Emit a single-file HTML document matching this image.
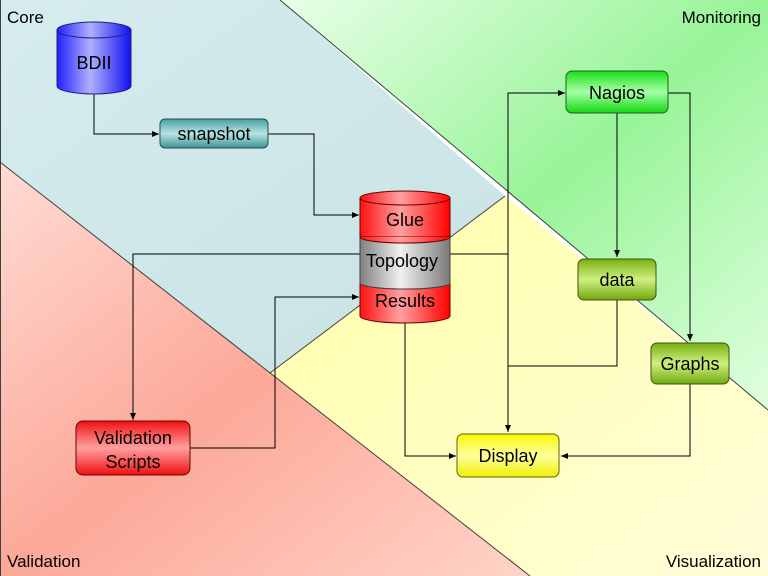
<!DOCTYPE html>
<html><head><meta charset="utf-8"><style>
html,body{margin:0;padding:0;background:#fff}
svg{display:block;font-family:"Liberation Sans",sans-serif}
</style></head><body>
<svg width="768" height="576" viewBox="0 0 768 576">
<defs>
<linearGradient id="gGreen" x1="0" y1="0" x2="1" y2="1" gradientUnits="objectBoundingBox">
<stop offset="0" stop-color="#e8ffe8"/><stop offset="0.5" stop-color="#98f498"/><stop offset="1" stop-color="#e0ffe0"/></linearGradient>
<linearGradient id="gRed" x1="0" y1="0" x2="1" y2="1">
<stop offset="0" stop-color="#ffdcd4"/><stop offset="0.5" stop-color="#fca898"/><stop offset="1" stop-color="#ffd4c8"/></linearGradient>
<linearGradient id="gYel" x1="0" y1="0" x2="1" y2="1">
<stop offset="0" stop-color="#ffffa8"/><stop offset="1" stop-color="#fffcd8"/></linearGradient>
<linearGradient id="gBlue" x1="0" y1="0" x2="1" y2="1">
<stop offset="0" stop-color="#d6ecee"/><stop offset="1" stop-color="#c8e2e4"/></linearGradient>
<linearGradient id="cylBlue" x1="0" x2="1"><stop offset="0" stop-color="#2020ff"/><stop offset="0.45" stop-color="#b0b0ff"/><stop offset="1" stop-color="#1010f0"/></linearGradient>
<linearGradient id="cylRed" x1="0" x2="1"><stop offset="0" stop-color="#ff1010"/><stop offset="0.45" stop-color="#ffa0a0"/><stop offset="1" stop-color="#ff0000"/></linearGradient>
<linearGradient id="cylGray" x1="0" x2="1"><stop offset="0" stop-color="#808080"/><stop offset="0.45" stop-color="#f0f0f0"/><stop offset="1" stop-color="#7a7a7a"/></linearGradient>
<linearGradient id="bTeal" x1="0" y1="0" x2="0" y2="1"><stop offset="0" stop-color="#4a9ea0"/><stop offset="0.5" stop-color="#b8e4e4"/><stop offset="1" stop-color="#3e9294"/></linearGradient>
<linearGradient id="bGreen" x1="0" y1="0" x2="0" y2="1"><stop offset="0" stop-color="#18e018"/><stop offset="0.5" stop-color="#a8ffa8"/><stop offset="1" stop-color="#10d810"/></linearGradient>
<linearGradient id="bOlive" x1="0" y1="0" x2="0" y2="1"><stop offset="0" stop-color="#78b010"/><stop offset="0.5" stop-color="#d0f080"/><stop offset="1" stop-color="#70a810"/></linearGradient>
<linearGradient id="bYel" x1="0" y1="0" x2="0" y2="1"><stop offset="0" stop-color="#f8f800"/><stop offset="0.5" stop-color="#ffffa0"/><stop offset="1" stop-color="#f0f000"/></linearGradient>
<linearGradient id="bRed" x1="0" y1="0" x2="0" y2="1"><stop offset="0" stop-color="#f01010"/><stop offset="0.5" stop-color="#ffa0a0"/><stop offset="1" stop-color="#f01010"/></linearGradient>
<marker id="ar" markerWidth="8" markerHeight="8" refX="7" refY="4" orient="auto" markerUnits="userSpaceOnUse"><path d="M0,1 L7,4 L0,7 z" fill="#000"/></marker>
</defs>

<g>
<polygon points="0,0 280,0 505,196 270,373 0,162" fill="url(#gBlue)"/>
<polygon points="280,0 768,0 768,410" fill="url(#gGreen)"/>
<polygon points="505,196 768,410 768,576 530,576 270,373" fill="url(#gYel)"/>
<polygon points="0,162 270,373 530,576 0,576" fill="url(#gRed)"/>
<g stroke="#404040" stroke-width="1" fill="none">
<line x1="280" y1="0" x2="768" y2="410"/>
<line x1="0" y1="162" x2="530" y2="576"/>
<line x1="270" y1="373" x2="505" y2="196"/>
<line x1="0.5" y1="0" x2="0.5" y2="576"/>
</g>
</g>

<g font-size="17" fill="#000">
<text x="7" y="23">Core</text>
<text x="761" y="23" text-anchor="end">Monitoring</text>
<text x="7" y="567">Validation</text>
<text x="761" y="567" text-anchor="end">Visualization</text>
</g>

<g stroke="#000" stroke-width="1" fill="none">
<polyline points="94,94 94,134 159,134" marker-end="url(#ar)"/>
<polyline points="268,134 314,134 314,215 359,215" marker-end="url(#ar)"/>
<polyline points="360,254 133,254 133,420" marker-end="url(#ar)"/>
<polyline points="190,448 275,448 275,297 359,297" marker-end="url(#ar)"/>
<polyline points="450,254 508,254"/>
<polyline points="508,366 508,432" marker-end="url(#ar)"/>
<polyline points="508,366 508,93 565,93" marker-end="url(#ar)"/>
<polyline points="405,322 405,456 456,456" marker-end="url(#ar)"/>
<polyline points="617,113 617,257" marker-end="url(#ar)"/>
<polyline points="668,93 690,93 690,341" marker-end="url(#ar)"/>
<polyline points="617,300 617,366 508,366"/>
<polyline points="690,384 690,456 561,456" marker-end="url(#ar)"/>
</g>

<g>
<path d="M57,30 L57,86 A37,8 0 0 0 131,86 L131,30" fill="url(#cylBlue)" stroke="#202080"/>
<ellipse cx="94" cy="30" rx="37" ry="8" fill="url(#cylBlue)" stroke="#202080"/>
<text x="94" y="69" font-size="18" text-anchor="middle">BDII</text>
</g>

<g>
<rect x="160" y="119" width="108" height="29" rx="5" fill="url(#bTeal)" stroke="#205050"/>
<text x="214" y="140" font-size="18" text-anchor="middle">snapshot</text>
</g>

<g>
<path d="M360,198 L360,237 L450,237 L450,198" fill="url(#cylRed)" stroke="#600"/>
<path d="M360,237 A45,6 0 0 0 450,237 L450,283 A45,6 0 0 1 360,283 Z" fill="url(#cylGray)" stroke="#404040"/>
<path d="M360,237 A45,6 0 0 0 450,237" fill="url(#cylRed)" stroke="#600"/>
<path d="M360,283 A45,6 0 0 0 450,283 L450,316 A45,7 0 0 1 360,316 Z" fill="url(#cylRed)" stroke="#600"/>
<path d="M360,283 A45,6 0 0 0 450,283" fill="url(#cylGray)" stroke="#404040"/>
<ellipse cx="405" cy="198" rx="45" ry="7" fill="url(#cylRed)" stroke="#600"/>
<text x="405" y="226" font-size="18" text-anchor="middle">Glue</text>
<text x="402" y="267" font-size="18" text-anchor="middle">Topology</text>
<text x="405" y="307" font-size="18" text-anchor="middle">Results</text>
</g>

<g>
<rect x="566" y="71" width="102" height="42" rx="6" fill="url(#bGreen)" stroke="#206020"/>
<text x="617" y="99" font-size="18" text-anchor="middle">Nagios</text>
</g>
<g>
<rect x="578" y="259" width="78" height="41" rx="6" fill="url(#bOlive)" stroke="#405010"/>
<text x="617" y="286" font-size="18" text-anchor="middle">data</text>
</g>
<g>
<rect x="651" y="343" width="78" height="41" rx="6" fill="url(#bOlive)" stroke="#405010"/>
<text x="690" y="370" font-size="18" text-anchor="middle">Graphs</text>
</g>
<g>
<rect x="457" y="434" width="102" height="43" rx="6" fill="url(#bYel)" stroke="#606010"/>
<text x="508" y="462" font-size="18" text-anchor="middle">Display</text>
</g>
<g>
<rect x="76" y="421" width="114" height="54" rx="7" fill="url(#bRed)" stroke="#600"/>
<text x="133" y="444" font-size="18" text-anchor="middle">Validation</text>
<text x="133" y="468" font-size="18" text-anchor="middle">Scripts</text>
</g>
</svg>
</body></html>
